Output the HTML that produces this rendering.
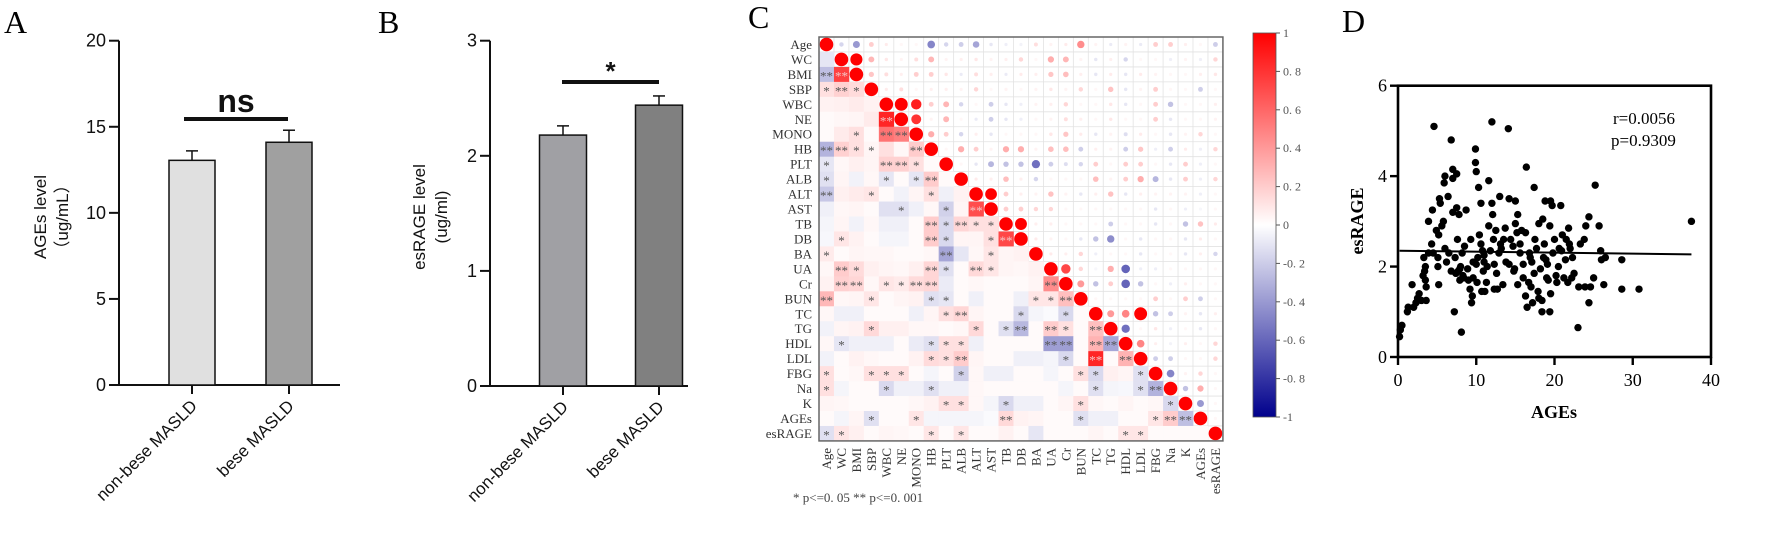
<!DOCTYPE html>
<html><head><meta charset="utf-8">
<style>
html,body{margin:0;padding:0;background:#fff;}
svg{display:block;}
.ar{font-family:"Liberation Sans",Arial,sans-serif;}
.sf{font-family:"Liberation Serif","Times New Roman",serif;}
</style></head>
<body>
<svg id="fig" width="1772" height="549" viewBox="0 0 1772 549" xmlns="http://www.w3.org/2000/svg">
<rect width="1772" height="549" fill="#fff"/>
<text class="sf" x="4" y="33" font-size="32">A</text>
<text class="sf" x="378" y="33" font-size="32">B</text>
<text class="sf" x="748" y="28" font-size="32">C</text>
<text class="sf" x="1342" y="32" font-size="32">D</text>
<g id="pa"></g>
<g id="pb"></g>
<g id="pc"></g>
<g id="pd"></g>
</svg>
<script>
// ---------- Panel A / B data ----------
const barCats = ["non-bese MASLD", "bese MASLD"];
const aVals = [13.05, 14.1];
const aErr = [0.55, 0.7];
const aTicks = [0, 5, 10, 15, 20];
const bVals = [2.18, 2.44];
const bErr = [0.08, 0.08];
const bTicks = [0, 1, 2, 3];

// ---------- Panel C data ----------
const vars = ["Age","WC","BMI","SBP","WBC","NE","MONO","HB","PLT","ALB","ALT","AST","TB","DB","BA","UA","Cr","BUN","TC","TG","HDL","LDL","FBG","Na","K","AGEs","esRAGE"];
const corr = [
[],
[-0.1],
[-0.25,0.75],
[0.12,0.18,0.14],
[0.05,0.06,0.08,0.05],
[0.02,0.03,0.04,0.08,0.85],
[0.02,0.08,0.12,0.02,0.55,0.5],
[-0.3,0.18,0.12,0.04,0.12,0.03,0.2],
[-0.1,0.03,0.06,0.04,0.18,0.18,0.12,0.02],
[-0.12,0.04,-0.05,0.03,-0.1,0.02,-0.1,0.2,0.02],
[-0.22,0.06,0.08,0.1,0.02,-0.05,0.04,0.12,-0.06,0.05],
[-0.06,0.03,0.04,0.02,-0.12,-0.12,-0.06,0.03,-0.18,0.04,0.7],
[-0.04,0.04,-0.05,0.03,-0.06,-0.06,0.02,0.2,-0.15,0.16,0.12,0.12],
[-0.03,0.1,0.05,0.02,-0.04,-0.04,0.02,0.2,-0.15,0.04,0.04,0.12,0.72],
[0.08,0.02,0.04,0.03,0.03,0.02,0.02,0.03,-0.35,-0.1,0.03,0.1,0.04,0.05],
[0.03,0.2,0.14,0.06,0.04,0.03,0.06,0.16,-0.12,0.02,0.15,0.1,0.04,0.03,0.05],
[0.05,0.18,0.16,0.03,0.1,0.08,0.14,0.16,-0.08,0.02,0.03,0.02,0.02,0.02,0.04,0.45],
[0.28,0.03,0.04,0.1,0.02,0.04,0.05,-0.12,-0.1,0.02,-0.06,0.02,0.02,-0.06,0.1,0.1,0.25],
[0.03,-0.06,-0.06,0.02,0.02,0.02,-0.06,0.04,0.12,0.16,0.04,0.02,0.02,-0.15,-0.04,-0.02,-0.15,0.02],
[-0.05,0.04,0.05,0.15,0.06,0.06,0.03,0.03,0.02,0.03,0.15,0.02,-0.12,-0.28,0.02,0.2,0.12,0.02,0.25],
[0.03,-0.1,-0.06,-0.06,-0.06,0.02,-0.08,-0.12,0.12,0.12,-0.06,0.02,0.02,0.02,0.02,-0.38,-0.38,0.02,0.3,-0.35],
[-0.05,0.02,0.05,0.03,0.02,0.02,0.05,0.14,0.12,0.2,0.04,0.02,0.02,-0.06,-0.06,-0.04,-0.15,0.02,0.85,0.02,0.3],
[0.12,0.02,0.03,0.12,0.12,0.12,0.02,-0.04,0.02,-0.18,0.03,-0.06,-0.06,0.02,0.02,-0.04,0.02,0.12,-0.15,0.06,0.04,-0.12],
[0.12,-0.04,0.02,0.02,-0.15,-0.06,-0.06,-0.12,-0.06,-0.06,0.03,0.02,0.02,0.02,0.02,0.02,-0.04,0.02,-0.12,-0.04,-0.03,-0.12,-0.3],
[0.04,0.03,0.02,0.02,0.02,0.02,0.03,0.05,0.12,0.12,0.03,-0.04,-0.15,-0.06,-0.06,0.02,0.04,0.12,0.03,0.02,0.04,0.02,0.03,-0.15],
[0.02,-0.04,0.04,-0.12,0.02,0.02,0.1,-0.04,-0.04,-0.04,-0.04,-0.02,0.15,0.05,0.04,0.02,0.02,-0.12,-0.06,-0.06,0.02,0.02,0.1,0.2,-0.25],
[-0.12,0.1,0.06,0.02,0.04,0.03,0.02,0.1,0.02,0.1,0.02,0.02,0.05,0.02,-0.1,0.02,0.02,0.02,0.04,0.02,0.1,0.1,0.02,0.02,0.02,0.02]
];
const sig = ["","0","22","121","0000","00002","001022","2211002","10002210","100010120","2001000100","00000100102","000000021211","0100000210012","10000000200100","021000021021000","0220112200000002","20010001100000112","000000001200010010","0001000000101202102","01000001110000022022","000000011200000010202","1001110001000000011001","10001001000000000010012","000000001100100001000001","0001001000002000010000122","11000001010000000000110000"];
const cbTicks = [1,0.8,0.6,0.4,0.2,0,-0.2,-0.4,-0.6,-0.8,-1];
const cbLabels = ["1","0. 8","0. 6","0. 4","0. 2","0","-0. 2","-0. 4","-0. 6","-0. 8","-1"];

// ---------- Panel D data ----------
const agesX = [0.2,0.3,0.5,1.2,1.3,1.8,2,2.3,2.5,2.7,3,3.2,3.3,3.4,3.5,3.5,3.6,3.6,3.9,3.9,4.3,4.4,4.5,4.6,4.9,5.1,5.1,5.2,5.2,5.3,5.4,5.6,5.8,5.9,6,6,6.4,6.5,6.8,6.8,7,7,7,7.2,7.3,7.4,7.5,7.5,7.6,7.7,7.8,7.9,8,8.1,8.2,8.4,8.5,8.7,8.9,9,9.2,9.3,9.4,9.5,9.6,9.9,9.9,10,10,10.1,10.2,10.3,10.4,10.6,10.7,10.8,10.9,11,11,11.1,11.3,11.6,11.6,11.8,12,12,12.1,12.2,12.3,12.3,12.5,12.7,12.9,13,13.1,13.4,13.5,13.7,13.8,14.1,14.2,14.2,14.4,14.7,14.9,15,15,15.2,15.3,15.3,15.6,15.8,16,16,16.3,16.3,16.4,16.5,16.7,16.9,17,17.2,17.4,17.4,17.5,17.7,17.9,18,18,18.2,18.4,18.4,18.5,18.6,18.7,18.8,19,19.1,19.4,19.4,19.5,19.5,19.7,19.8,20,20.3,20.5,20.6,20.8,21,21.2,21.4,21.5,21.7,21.8,22,22.2,22.5,23,23.1,23.3,23.8,23.9,24,24.4,24.4,24.6,25,25.2,25.7,25.9,26,26.3,26.5,28.6,28.6,30.8,37.5,8.3,9.6,11.4,13.2,14.8,16.8,18.9,20.2,21.9,6.2,7.9,10.6,12.6,15.6,17.1,19.2,20.9,22.3];
const esragY = [0.45,0.6,0.7,1.0,1.1,1.6,1.1,1.2,1.3,1.4,1.25,1.8,2.2,1.9,1.7,2.0,1.55,1.25,2.3,3.0,2.5,3.25,2.3,5.1,2.8,2.0,2.2,1.6,2.7,3.5,3.4,2.9,3.0,3.85,4.0,2.4,3.55,2.3,4.8,1.9,4.15,3.2,3.95,1.0,2.2,1.85,4.05,3.3,2.6,1.9,3.15,1.7,2.0,0.55,2.3,1.75,2.45,3.25,1.95,1.7,1.5,2.6,1.2,1.35,1.75,4.6,4.3,4.1,2.05,1.65,2.2,3.75,2.7,3.4,1.45,2.35,1.9,2.1,2.25,1.45,1.65,3.9,2.9,2.35,5.2,3.4,3.15,2.6,1.5,2.05,2.8,1.5,2.3,3.55,2.5,1.6,2.6,2.85,2.1,5.05,3.5,2.05,2.6,2.45,1.95,2.95,3.45,2.75,3.15,1.6,2.3,2.8,1.75,2.05,1.35,2.75,4.2,1.1,1.65,2.2,1.55,1.2,1.85,3.75,2.6,2.4,1.45,2.95,1.3,1.95,1.0,1.25,3.05,2.2,2.5,3.45,1.75,2.05,1.0,2.9,1.4,3.45,3.35,2.3,2.6,1.65,2.0,2.4,3.35,2.7,1.75,2.15,2.6,1.65,2.85,2.4,1.75,1.85,0.65,1.55,2.5,2.6,1.55,2.9,1.2,3.1,1.55,1.75,3.8,2.9,2.35,2.15,1.6,2.2,1.5,2.15,1.5,3.0,1.8,2.1,2.0,2.4,1.9,2.3,2.15,1.8,2.5,2.1,1.95,2.5,1.85,2.5,2.1,1.7,2.35,2.2];
const fitX = [0.2, 37.5];
const fitY = [2.35, 2.27];
const xTicksD = [0,10,20,30,40];
const yTicksD = [0,2,4,6];

const NS = "http://www.w3.org/2000/svg";
function mk(parent, tag, attrs, txt){
  const e = document.createElementNS(NS, tag);
  for (const k in attrs) e.setAttribute(k, attrs[k]);
  if (txt !== undefined) e.textContent = txt;
  parent.appendChild(e);
  return e;
}

// ---------- bar panel ----------
function barPanel(gid, cfg){
  const g = document.getElementById(gid);
  const y = v => cfg.y0 - (v - 0) / cfg.yMax * (cfg.y0 - cfg.yTop);
  let e = mk(g,'line',{x1:cfg.ax,y1:cfg.yTop,x2:cfg.ax,y2:cfg.y0,stroke:'#111','stroke-width':2});
   
  e = mk(g,'line',{x1:cfg.ax-10,y1:cfg.y0,x2:cfg.xEnd,y2:cfg.y0,stroke:'#111','stroke-width':2});
   
  cfg.ticks.forEach(t=>{
    mk(g,'line',{x1:cfg.ax-10,y1:y(t),x2:cfg.ax,y2:y(t),stroke:'#111','stroke-width':2});
    const tl = mk(g,'text',{x:cfg.ax-13,y:y(t)+6,'text-anchor':'end','font-size':18,class:'ar',fill:'#111'},String(t));
     
  });
  cfg.vals.forEach((v,i)=>{
    const cx = cfg.cx[i];
    const bar = mk(g,'rect',{x:cx-cfg.bw/2,y:y(v),width:cfg.bw,height:cfg.y0-y(v),fill:cfg.fills[i],stroke:'#111','stroke-width':1.5});
     
    mk(g,'line',{x1:cx,y1:y(v),x2:cx,y2:y(v+cfg.err[i]),stroke:'#111','stroke-width':1.5});
    mk(g,'line',{x1:cx-6,y1:y(v+cfg.err[i]),x2:cx+6,y2:y(v+cfg.err[i]),stroke:'#111','stroke-width':1.5});
    mk(g,'line',{x1:cx,y1:cfg.y0,x2:cx,y2:cfg.y0+9,stroke:'#111','stroke-width':2});
    const lab = mk(g,'text',{x:cx+6,y:cfg.y0+22,'text-anchor':'end','font-size':17,class:'ar',fill:'#111',transform:`rotate(-45 ${cx+6} ${cfg.y0+22})`},barCats[i]);
     
  });
  const yl = mk(g,'text',{x:0,y:0,'text-anchor':'middle','font-size':17,class:'ar',fill:'#111',transform:`translate(${cfg.ylx},${cfg.yly}) rotate(-90)`});
   
  mk(yl,'tspan',{x:0,dy:0},cfg.yl1);
  mk(yl,'tspan',{x:0,dy:22},cfg.yl2);
  const sb = mk(g,'line',{x1:cfg.sig[0],y1:cfg.sig[2],x2:cfg.sig[1],y2:cfg.sig[2],stroke:'#111','stroke-width':4});
   
  const st = mk(g,'text',{x:(cfg.sig[0]+cfg.sig[1])/2,y:cfg.sig[3],'text-anchor':'middle','font-size':cfg.sigSize,'font-weight':'bold',class:'ar',fill:'#111'},cfg.sigText);
   
}
barPanel('pa',{ax:119,y0:385,yTop:40.7,yMax:20,xEnd:340,ticks:aTicks,vals:aVals,err:aErr,cx:[192,289],bw:46,fills:['#e0e0e0','#a0a0a0'],ylx:46,yly:217,yl1:'AGEs level',yl2:'（ug/mL）',sig:[184,288,119,112],sigText:'ns',sigSize:32});
barPanel('pb',{ax:490,y0:386,yTop:40.7,yMax:3,xEnd:688,ticks:bTicks,vals:bVals,err:bErr,cx:[563,659],bw:47,fills:['#a0a0a4','#808080'],ylx:425,yly:217,yl1:'esRAGE level',yl2:'(ug/ml)',sig:[562,659,82,80],sigText:'*',sigSize:26});

// ---------- correlation matrix ----------
(function(){
  const g = document.getElementById('pc');
  const L = 819, T = 37, cs = 14.96, n = vars.length;
  const colx = j => L + (j+0.5)*cs;
  const rowy = i => T + (i+0.5)*cs;
  function col(r){
    const t = Math.min(1, Math.abs(r));
    if (r >= 0) return `rgb(255,${Math.round(255*(1-t))},${Math.round(255*(1-t))})`;
    return `rgb(${Math.round(255*(1-t))},${Math.round(255*(1-t))},${Math.round(255-115*t)})`;
  }
  const val = (i,j) => i===j ? 1 : (i>j ? (corr[i][j]||0) : (corr[j][i]||0));
  for (let k=0;k<=n;k++){
    mk(g,'line',{x1:L+k*cs,y1:T,x2:L+k*cs,y2:T+n*cs,stroke:'#e2e2e2','stroke-width':0.8});
    mk(g,'line',{x1:L,y1:T+k*cs,x2:L+n*cs,y2:T+k*cs,stroke:'#e2e2e2','stroke-width':0.8});
  }
  for (let i=0;i<n;i++){
    for (let j=0;j<n;j++){
      const r = val(i,j);
      if (i>j){
        const c = mk(g,'rect',{x:L+j*cs,y:T+i*cs,width:cs+0.3,height:cs+0.3,fill:col(r)});
         
        const s = sig[i] ? sig[i][j] : '0';
        if (s==='1' || s==='2'){
          const st = mk(g,'text',{x:colx(j),y:rowy(i)+6,'text-anchor':'middle','font-size':13,class:'sf',fill:Math.abs(r)>0.6?'#f4c4c4':'#555'}, s==='1'?'*':'**');
           
        }
      } else {
        const rad = i===j ? 6.8 : Math.max(1.6, Math.sqrt(Math.abs(r))*7);
        const c = mk(g,'circle',{cx:colx(j),cy:rowy(i),r:rad,fill:col(Math.sign(r)*Math.min(1,Math.abs(r)*1.6))});
         
      }
    }
  }
  mk(g,'rect',{x:L,y:T,width:n*cs,height:n*cs,fill:'none',stroke:'#666','stroke-width':1.5});
  vars.forEach((v,i)=>{
    const rl = mk(g,'text',{x:L-7,y:rowy(i)+4.5,'text-anchor':'end','font-size':13,class:'sf',fill:'#333'},v);
     
    const cl = mk(g,'text',{x:0,y:0,'text-anchor':'end','font-size':13,class:'sf',fill:'#333',transform:`translate(${colx(i)+4.5},${T+n*cs+7}) rotate(-90)`},v);
     
  });
  const lg = mk(g,'text',{x:793,y:502,'font-size':13,class:'sf',fill:'#444','xml:space':'preserve'},'* p<=0. 05      ** p<=0. 001');
   
  const defs = mk(g,'defs',{});
  const grad = mk(defs,'linearGradient',{id:'cbg',x1:0,y1:0,x2:0,y2:1});
  [1,0.5,0,-0.5,-1].forEach((v,k)=>mk(grad,'stop',{offset:(k*25)+'%','stop-color':col(v)}));
  const cbT=33, cbB=417;
  const cb = mk(g,'rect',{x:1253,y:cbT,width:23,height:cbB-cbT,fill:'url(#cbg)',stroke:'#555','stroke-width':0.8});
   
  cbTicks.forEach((t,k)=>{
    const yy = cbT + (1-t)/2*(cbB-cbT);
    mk(g,'line',{x1:1276,y1:yy,x2:1280,y2:yy,stroke:'#555','stroke-width':1});
    const tl = mk(g,'text',{x:1283,y:yy+4,'font-size':12,class:'sf',fill:'#555'},cbLabels[k]);
     
  });
})();

// ---------- scatter ----------
(function(){
  const g = document.getElementById('pd');
  const X0=1398, X1=1711, Y0=357, Y1=85.7;
  const sx = v => X0 + v/40*(X1-X0);
  const sy = v => Y0 - v/6*(Y0-Y1);
  agesX.forEach((x,i)=>{
    const p = mk(g,'circle',{cx:sx(x),cy:sy(esragY[i]),r:3.7,fill:'#000'});
     
  });
  const fl = mk(g,'line',{x1:sx(fitX[0]),y1:sy(fitY[0]),x2:sx(fitX[1]),y2:sy(fitY[1]),stroke:'#000','stroke-width':2});
   
  const fr = mk(g,'rect',{x:X0,y:Y1,width:X1-X0,height:Y0-Y1,fill:'none',stroke:'#000','stroke-width':2.6});
   
  xTicksD.forEach(t=>{
    mk(g,'line',{x1:sx(t),y1:Y0,x2:sx(t),y2:Y0+8,stroke:'#000','stroke-width':2.4});
    const tl = mk(g,'text',{x:sx(t),y:Y0+29,'text-anchor':'middle','font-size':18,class:'sf'},String(t));
     
  });
  yTicksD.forEach(t=>{
    mk(g,'line',{x1:X0-8,y1:sy(t),x2:X0,y2:sy(t),stroke:'#000','stroke-width':2.4});
    const tl = mk(g,'text',{x:X0-11,y:sy(t)+6,'text-anchor':'end','font-size':18,class:'sf'},String(t));
     
  });
  const xt = mk(g,'text',{x:1554,y:418,'text-anchor':'middle','font-size':18,'font-weight':'bold',class:'sf'},'AGEs');
   
  const yt = mk(g,'text',{x:0,y:0,'text-anchor':'middle','font-size':18,'font-weight':'bold',class:'sf',transform:'translate(1363,221) rotate(-90)'},'esRAGE');
   
  const r1 = mk(g,'text',{x:1613,y:124,'font-size':17,class:'sf'},'r=0.0056');
   
  const p1 = mk(g,'text',{x:1611,y:146,'font-size':17,class:'sf'},'p=0.9309');
   
})();
</script>
</body></html>
